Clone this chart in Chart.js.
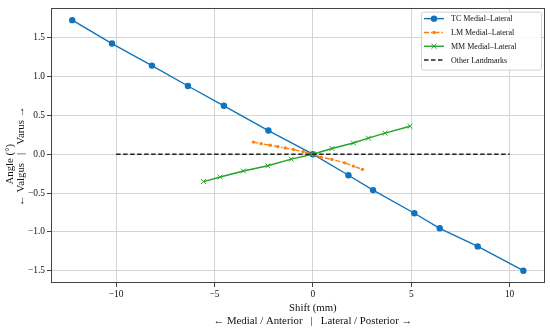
<!DOCTYPE html>
<html>
<head>
<meta charset="utf-8">
<script src="https://cdn.jsdelivr.net/npm/chart.js@4.4.1/dist/chart.umd.min.js"></script>
<style>
  html, body { margin: 0; padding: 0; background: #fff; }
  #wrap { width: 550px; height: 331px; }
</style>
</head>
<body>
<div id="wrap"><canvas id="plot" width="550" height="331"></canvas></div>
<script>
// values
const tcShift = [-12.23, -10.21, -8.18, -6.35, -4.52, -2.26, 0, 1.81, 3.06, 5.16, 6.45, 8.38, 10.70];
const tcAngle = [1.726, 1.425, 1.141, 0.878, 0.623, 0.305, 0, -0.271, -0.462, -0.760, -0.954, -1.187, -1.50];

const lmShift = [-3.02, -2.63, -2.17, -1.78, -1.41, -0.99, -0.49, 0, 0.42, 0.97, 1.61, 2.06, 2.52];
const lmAngle = [0.156, 0.136, 0.115, 0.098, 0.080, 0.060, 0.032, 0, -0.038, -0.067, -0.111, -0.153, -0.195];

const mmShift = [-5.56, -4.71, -3.53, -2.29, -1.10, 0, 0.97, 2.06, 2.82, 3.67, 4.94];
const mmAngle = [-0.352, -0.293, -0.216, -0.149, -0.064, 0, 0.073, 0.144, 0.207, 0.271, 0.360];

const otherShift = [-10, 10];
const otherAngle = [0, 0];

const seriesNames = ['TC Medial\u2013Lateral', 'LM Medial\u2013Lateral', 'MM Medial\u2013Lateral', 'Other Landmarks'];

const xTitle = ['Shift (mm)', '\u2190 Medial / Anterior   |   Lateral / Posterior \u2192'];
const yTitle = ['Angle (\u00b0)', '\u2190 Valgus   |   Varus \u2192'];

const SERIF = "'Liberation Serif', 'Times New Roman', serif";

function pts(xs, ys) {
    return xs.map((x, i) => ({ x: x, y: ys[i] }));
}

function minus(v, digits) {
    let s = digits ? Math.abs(v).toFixed(digits) : String(Math.abs(v));
    return (v < 0 ? '\u2212' : '') + s;
}

// box round the plot area, like the matplotlib axes frame
const framePlugin = {
    id: 'frame',
    afterDatasetsDraw(chart) {
        const a = chart.chartArea;
        const ctx = chart.ctx;
        ctx.save();
        ctx.strokeStyle = '#444';
        ctx.lineWidth = 1;
        ctx.strokeRect(Math.round(a.left) + 0.5, Math.round(a.top) + 0.5,
            Math.round(a.right - a.left) - 1, Math.round(a.bottom - a.top) - 1);
        ctx.restore();
    }
};

// axis titles are centred on the zero lines in the reference, not on the plot
const titlePlugin = {
    id: 'zeroTitles',
    afterDraw(chart) {
        const ctx = chart.ctx;
        const x0 = chart.scales.x.getPixelForValue(0);
        const y0 = chart.scales.y.getPixelForValue(0);
        ctx.save();
        ctx.fillStyle = '#111';
        ctx.font = '10.8px ' + SERIF;
        ctx.textAlign = 'center';
        ctx.textBaseline = 'middle';
        ctx.fillText(xTitle[0], x0, 308);
        ctx.fillText(xTitle[1], x0, 321);

        ctx.translate(10, y0 + 10);
        ctx.rotate(-Math.PI / 2);
        ctx.fillText(yTitle[0], 0, 0);
        ctx.restore();

        ctx.save();
        ctx.fillStyle = '#111';
        ctx.font = '10.8px ' + SERIF;
        ctx.textAlign = 'center';
        ctx.textBaseline = 'middle';
        ctx.translate(21, y0 + 2);
        ctx.rotate(-Math.PI / 2);
        ctx.fillText(yTitle[1], 0, 0);
        ctx.restore();
    }
};

function drawMarker(ctx, ds, x, y) {
    ctx.save();
    ctx.fillStyle = ds.pointBackgroundColor || ds.borderColor;
    ctx.strokeStyle = ds.pointBorderColor || ds.borderColor;
    ctx.setLineDash([]);
    const r = ds.pointRadius;
    if (!r) { ctx.restore(); return; }
    if (ds.pointStyle === 'crossRot') {
        ctx.lineWidth = ds.pointBorderWidth || 1;
        ctx.beginPath();
        ctx.moveTo(x - r * 0.75, y - r * 0.75); ctx.lineTo(x + r * 0.75, y + r * 0.75);
        ctx.moveTo(x - r * 0.75, y + r * 0.75); ctx.lineTo(x + r * 0.75, y - r * 0.75);
        ctx.stroke();
    } else {
        ctx.beginPath();
        ctx.arc(x, y, r, 0, Math.PI * 2);
        ctx.fill();
    }
    ctx.restore();
}

// matplotlib-style legend: line sample + marker, top right
const legendPlugin = {
    id: 'mplLegend',
    afterDraw(chart) {
        const ctx = chart.ctx;
        const a = chart.chartArea;
        const w = 120, h = 58;
        const bx = a.right - 4 - w, by = a.top + 4;
        ctx.save();
        ctx.fillStyle = 'rgba(255,255,255,0.85)';
        ctx.strokeStyle = '#d0d0d0';
        ctx.lineWidth = 1;
        ctx.beginPath();
        ctx.roundRect(bx + 0.5, by + 0.5, w, h, 2);
        ctx.fill();
        ctx.stroke();
        ctx.font = '8px ' + SERIF;
        ctx.textBaseline = 'middle';
        const order = [0, 1, 2, 3];
        order.forEach((i, row) => {
            const ds = chart.data.datasets[i];
            const y = by + 7 + row * 13.8;
            ctx.save();
            ctx.strokeStyle = ds.borderColor;
            ctx.lineWidth = ds.borderWidth;
            ctx.setLineDash(ds.borderDash || []);
            ctx.beginPath();
            ctx.moveTo(bx + 3, y);
            ctx.lineTo(bx + 23, y);
            ctx.stroke();
            ctx.restore();
            drawMarker(ctx, ds, bx + 13, y);
            ctx.fillStyle = '#111';
            ctx.fillText(ds.label, bx + 30, y + 0.5);
        });
        ctx.restore();
    }
};

const ctx = document.getElementById('plot').getContext('2d');

new Chart(ctx, {
    type: 'scatter',
    data: {
        datasets: [
            {
                label: seriesNames[0],
                data: pts(tcShift, tcAngle),
                showLine: true,
                borderColor: '#0f74bd',
                backgroundColor: '#0f74bd',
                borderWidth: 1.4,
                pointStyle: 'circle',
                pointRadius: 3.2,
                pointBorderWidth: 0,
                order: 4
            },
            {
                label: seriesNames[1],
                data: pts(lmShift, lmAngle),
                showLine: true,
                borderColor: '#ff7f0e',
                backgroundColor: '#ff7f0e',
                borderWidth: 1.4,
                borderDash: [5, 2, 1.5, 2],
                pointStyle: 'circle',
                pointRadius: 1.7,
                pointBorderWidth: 0,
                order: 3
            },
            {
                label: seriesNames[2],
                data: pts(mmShift, mmAngle),
                showLine: true,
                borderColor: '#22a428',
                backgroundColor: '#22a428',
                borderWidth: 1.4,
                pointStyle: 'crossRot',
                pointRadius: 3.4,
                pointBorderWidth: 1,
                order: 2
            },
            {
                label: seriesNames[3],
                data: pts(otherShift, otherAngle),
                showLine: true,
                borderColor: '#222',
                backgroundColor: '#222',
                borderWidth: 1.4,
                borderDash: [4.5, 2.5],
                pointRadius: 0,
                order: 1
            }
        ]
    },
    options: {
        responsive: false,
        animation: false,
        devicePixelRatio: 1,
        layout: { padding: { left: 0, right: 5, top: 5, bottom: 0 } },
        plugins: {
            legend: { display: false },
            tooltip: { enabled: false }
        },
        scales: {
            x: {
                type: 'linear',
                min: -13.31,
                max: 11.80,
                afterFit(s) { s.height = 48; },
                grid: { color: '#d4d4d4', lineWidth: 1, tickLength: 4, tickColor: '#444', drawTicks: true },
                border: { display: false },
                ticks: {
                    stepSize: 5,
                    includeBounds: false,
                    maxRotation: 0,
                    padding: 2,
                    color: '#111',
                    font: { family: SERIF, size: 9.4 },
                    callback: (v) => minus(v, 0)
                }
            },
            y: {
                type: 'linear',
                min: -1.658,
                max: 1.887,
                afterFit(s) { s.width = 51; },
                grid: { color: '#d4d4d4', lineWidth: 1, tickLength: 4, tickColor: '#444', drawTicks: true },
                border: { display: false },
                ticks: {
                    stepSize: 0.5,
                    includeBounds: false,
                    padding: 2,
                    color: '#111',
                    font: { family: SERIF, size: 9.4 },
                    callback: (v) => minus(v, 1)
                }
            }
        }
    },
    plugins: [framePlugin, titlePlugin, legendPlugin]
});
</script>
</body>
</html>
